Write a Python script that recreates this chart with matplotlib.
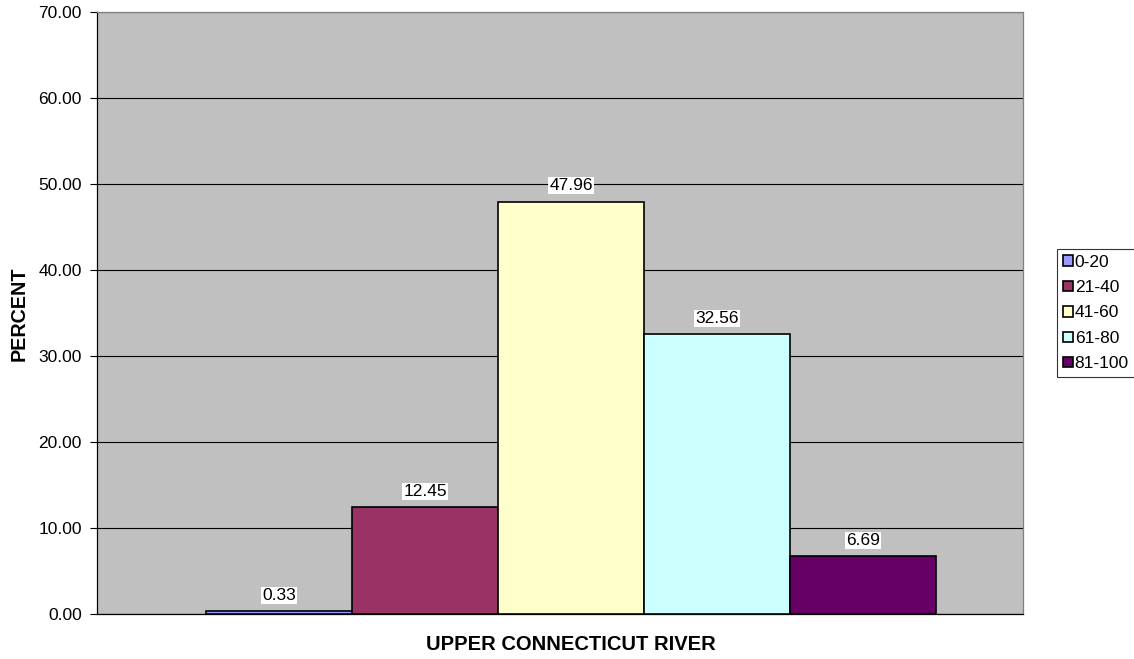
import matplotlib
matplotlib.use("Agg")
import matplotlib.pyplot as plt

categories = ["0-20", "21-40", "41-60", "61-80", "81-100"]
values = [0.33, 12.45, 47.96, 32.56, 6.69]
colors = ["#9999FF", "#993366", "#FFFFCC", "#CCFFFF", "#660066"]
yticks = [0, 10, 20, 30, 40, 50, 60, 70]

plt.rcParams['font.family'] = ['Liberation Sans', 'DejaVu Sans']

fig = plt.figure(figsize=(11.34, 6.59), dpi=100)
ax = fig.add_axes([97/1134, 1-614/659, (1023-97)/1134, (614-12)/659])
ax.set_facecolor("#C0C0C0")

x = list(range(len(values)))
bars = ax.bar(x, values, width=1.0, color=colors, edgecolor="black", linewidth=1.2, zorder=3)

for xi, v in zip(x, values):
    ax.annotate(f"{v:.2f}", (xi, v), xytext=(0, 6), textcoords="offset points",
                ha="center", va="bottom", fontsize=12.5, zorder=5,
                bbox=dict(facecolor="white", edgecolor="none", pad=0.8))

ax.set_xlim(-0.5 - 109/146, -0.5 + 817/146)
ax.set_ylim(0, 70)
ax.set_yticks(yticks)
ax.set_yticklabels([f"{t:.2f}" for t in yticks], fontsize=12.5)
ax.set_xticks([])
ax.yaxis.grid(True, color="black", linewidth=0.8, zorder=0)
ax.set_axisbelow(True)
ax.tick_params(axis='y', length=5, width=0.8, color="black", pad=6)
ax.spines['left'].set_color("black")
ax.spines['bottom'].set_color("black")
ax.spines['top'].set_color("#808080")
ax.spines['right'].set_color("#808080")
for s in ax.spines.values():
    s.set_linewidth(0.9)

ax.set_ylabel("PERCENT", fontsize=14.2, fontweight="bold", labelpad=7)
ax.yaxis.label.set_y((614 - 313.5) / 602)
ax.set_xlabel("UPPER CONNECTICUT RIVER", fontsize=14.5, fontweight="bold", labelpad=15)
ax.xaxis.label.set_x((571 - 97) / 926)

leg = ax.legend(handles=bars, labels=categories, loc="center left",
                bbox_to_anchor=(1057/1134, 1-313/659), bbox_transform=fig.transFigure,
                frameon=True, fancybox=False, edgecolor="black", fontsize=12.5,
                handlelength=0.55, handleheight=0.55, handletextpad=0.12,
                borderpad=0.35, labelspacing=0.6, borderaxespad=0)
leg.get_frame().set_linewidth(0.8)

fig.savefig("out.png", dpi=100)
